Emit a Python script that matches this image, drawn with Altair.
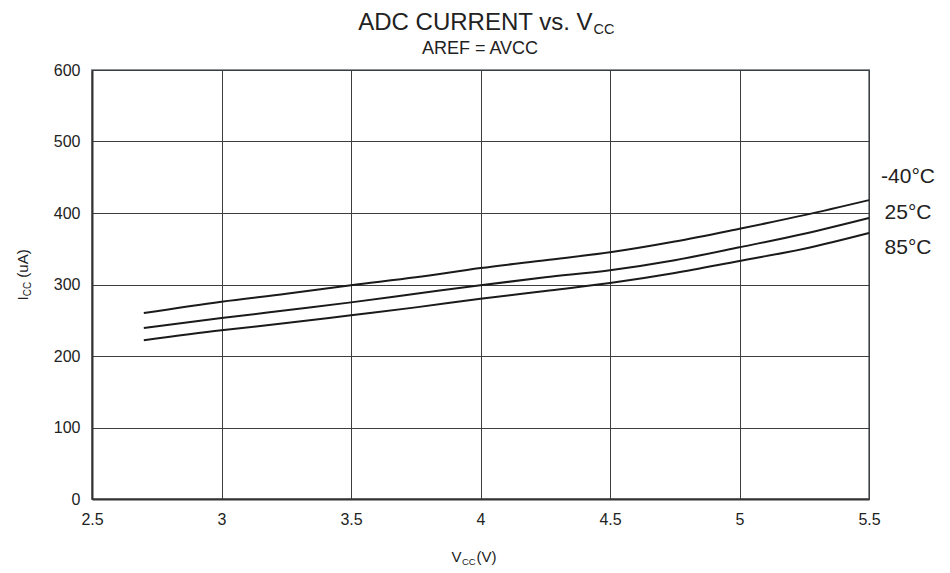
import altair as alt
import pandas as pd

FONT = "Liberation Sans"

vcc = [2.7, 3.0, 3.25, 3.5, 3.75, 4.0, 4.25, 4.5, 4.75, 5.0, 5.25, 5.5]
i_m40 = [260, 276, 287, 299, 310, 323, 334, 345, 360, 378, 397, 418]
i_25 = [239, 253, 264, 275, 287, 299, 310, 320, 334, 352, 371, 393]
i_85 = [222, 236, 246, 257, 268, 280, 291, 302, 316, 333, 350, 372]
temps = ["-40°C", "25°C", "85°C"]
label_y = [450, 400, 351]
x_ticks = [2.5, 3, 3.5, 4, 4.5, 5, 5.5]
y_ticks = [0, 100, 200, 300, 400, 500, 600]

rows = []
for t, ser in zip(temps, [i_m40, i_25, i_85]):
    for v, c in zip(vcc, ser):
        rows.append({"vcc": v, "icc": c, "temp": t})
df = pd.DataFrame(rows)
lab_df = pd.DataFrame({"temp": temps, "y": label_y, "x": [5.5] * 3})

xs = alt.Scale(domain=[2.5, 5.5], nice=False, zero=False)
ys = alt.Scale(domain=[0, 600], nice=False)

lines = alt.Chart(df).mark_line(color="#1a1a1a", strokeWidth=2, interpolate="monotone").encode(
    x=alt.X("vcc:Q", scale=xs, axis=alt.Axis(values=x_ticks, title=None, format="~g", ticks=False,
                                             labelPadding=12, grid=True, labelFlush=False)),
    y=alt.Y("icc:Q", scale=ys, axis=alt.Axis(values=y_ticks, title=None, ticks=False,
                                             labelPadding=12, grid=True, labelFlush=False)),
    detail="temp:N",
)

labels = alt.Chart(lab_df).mark_text(align="center", dx=39, fontSize=21, font=FONT, color="#222").encode(
    x=alt.X("x:Q", scale=xs), y=alt.Y("y:Q", scale=ys), text="temp:N"
)

one = alt.Data(values=[{"a": 1}])


def txt(s, x, y, size, align="left", angle=0, baseline="alphabetic"):
    kw = dict(align=align, baseline=baseline, fontSize=size, font=FONT, color="#222")
    if angle:
        kw["angle"] = angle
    return alt.Chart(one).mark_text(**kw).encode(
        x=alt.value(x), y=alt.value(y), text=alt.value(s)
    )


texts = [
    txt("ADC CURRENT vs. V", 500.5, -40, 24, align="right"),
    txt("CC", 501.5, -36, 14.5),
    txt("AREF = AVCC", 388, -16, 18, align="center"),
    txt("V", 369.5, 492, 15, align="right"),
    txt("CC", 370, 495, 9.5),
    txt("(V)", 384.5, 492, 15),
    txt("I", -64, 230.5, 15, angle=270),
    txt("CC", -61, 226.3, 10, angle=270),
    txt("(uA)", -64, 207.7, 15, angle=270),
]

chart = alt.layer(lines, labels, *texts).properties(
    width=777, height=429,
    autosize=alt.AutoSizeParams(type="none"),
    padding={"left": 84, "top": 62, "right": 72, "bottom": 68},
).configure_view(stroke="#8a9097", strokeWidth=2).configure_axis(
    labelFont=FONT, labelFontSize=16, labelColor="#222",
    domainColor="#333", domainWidth=2, gridColor="#3d3d3d", gridWidth=1,
)

chart.save("out.html", embed_options={"renderer": "svg", "actions": False})
